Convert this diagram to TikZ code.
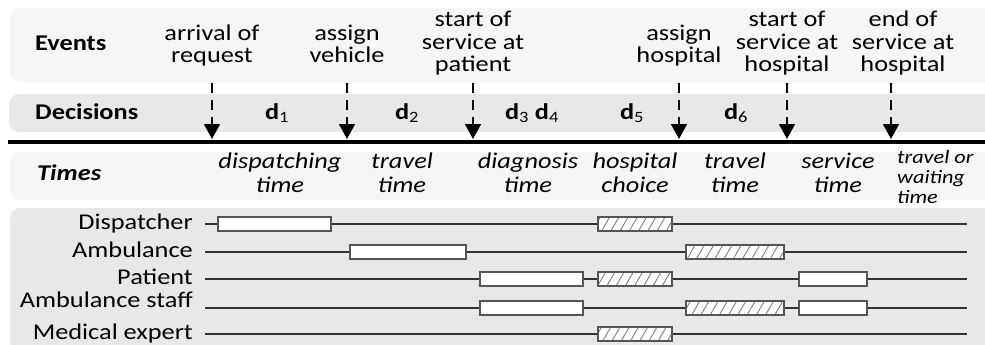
\documentclass[tikz,border=0pt]{standalone}
\usepackage{fontspec}
\setmainfont{Carlito}[FakeStretch=1.17]
\usepackage{tikz}
\usetikzlibrary{arrows.meta}
\usetikzlibrary{positioning}
\usetikzlibrary{patterns.meta}
\definecolor{panellight}{HTML}{F6F6F6}
\definecolor{paneldark}{HTML}{E8E8E8}
\definecolor{boxedge}{HTML}{555555}
\tikzset{>=latex}
\tikzset{
  panel/.style = {draw=none, rounded corners=10pt},
  head/.style = {inner sep=0, anchor=base west, font=\fontsize{22.5}{22}\selectfont\bfseries},
  event/.style = {inner sep=0, anchor=base, align=center, font=\fontsize{22.5}{22.5}\selectfont},
  dec/.style = {inner sep=0, anchor=base, font=\fontsize{22.5}{22}\selectfont\bfseries},
  dur/.style = {inner sep=0, anchor=base, align=center, font=\fontsize{22.5}{24}\selectfont\itshape},
  lane/.style = {inner sep=0, anchor=base east, font=\fontsize{22.5}{22}\selectfont},
  evarrow/.style = {line width=1.5pt, dash pattern=on 10pt off 7pt, -{Triangle[width=16pt,length=15pt]}},
  track/.style = {line width=1.3pt, draw=black!80},
  busy/.style = {draw=boxedge, line width=1.2pt, fill=white},
  hatched/.style = {draw=boxedge, line width=1.2pt, preaction={fill=white},
    pattern={Lines[angle=60,distance=8pt,line width=0.9pt]}, pattern color=black!50}
}
\newcommand{\dsub}[1]{\textbf{d}\textsubscript{\mdseries #1}}

\begin{document}
\begin{tikzpicture}[x=1pt, y=-1pt]
\useasboundingbox (0,0) rectangle (985,345);
\clip (0,0) rectangle (985,345);
% panels
\fill [panel, panellight] (10,8) rectangle (1000,82);
\fill [panel, paneldark] (9,94) rectangle (1000,132);
\fill [panel, panellight] (10,152) rectangle (1000,200);
\fill [panel, paneldark] (10,208) rectangle (1000,360);
% time axis
\coordinate (axis start) at (8,142);
\coordinate (axis end) at (990,142);
\draw [line width=4pt] (axis start) -- (axis end);

% events
\node [head] (events) at (35,51) {Events};
\node [event] (arrival) at (212,63) {arrival of\\request};
\node [event] (vehicle) at (347,63) {assign\\vehicle};
\node [event] (startpat) at (473,72) {start of\\service at\\patient};
\node [event] (hospital) at (679,63) {assign\\hospital};
\node [event] (starthosp) at (787,72) {start of\\service at\\hospital};
\node [event] (endhosp) at (903,72) {end of\\service at\\hospital};

\coordinate (e1) at (212,83);  \coordinate (t1) at (212,139);
\coordinate (e2) at (347,83);  \coordinate (t2) at (347,139);
\coordinate (e3) at (473,83);  \coordinate (t3) at (473,139);
\coordinate (e4) at (679,83);  \coordinate (t4) at (679,139);
\coordinate (e5) at (787,83);  \coordinate (t5) at (787,139);
\coordinate (e6) at (891,83);  \coordinate (t6) at (891,139);
\draw [evarrow] (e1) -- (t1);
\draw [evarrow] (e2) -- (t2);
\draw [evarrow] (e3) -- (t3);
\draw [evarrow] (e4) -- (t4);
\draw [evarrow] (e5) -- (t5);
\draw [evarrow] (e6) -- (t6);

% decisions
\node [head] (decisions) at (35,119) {Decisions};
\node [dec] (d1) at (277,119) {\dsub{1}};
\node [dec] (d2) at (407,119) {\dsub{2}};
\node [dec] (d34) at (532,119) {\dsub{3} \dsub{4}};
\node [dec] (d5) at (632,119) {\dsub{5}};
\node [dec] (d6) at (736,119) {\dsub{6}};

% times
\node [head, font=\fontsize{22.5}{22}\selectfont\bfseries\itshape] (times) at (37,180) {Times};
\node [dur] (tdisp) at (280,192) {dispatching\\time};
\node [dur] (ttrav) at (402,192) {travel\\time};
\node [dur] (tdiag) at (528,192) {diagnosis\\time};
\node [dur] (tchoice) at (635,192) {hospital\\choice};
\node [dur] (ttrav2) at (735,192) {travel\\time};
\node [dur] (tserv) at (838,192) {service\\time};
\node [dur, anchor=base west, align=left, font=\fontsize{19}{20}\selectfont\itshape] (twait) at (897,203) {travel or\\waiting\\time};

% lanes
\node [lane] (dispatcher) at (193,229) {Dispatcher};
\node [lane] (ambulance) at (193,257) {Ambulance};
\node [lane] (patient) at (193,284) {Patient};
\node [lane] (staff) at (193,307) {Ambulance staff};
\node [lane] (expert) at (193,339) {Medical expert};

\coordinate (l1) at (205,224);  \coordinate (r1) at (967,224);
\coordinate (l2) at (205,252);  \coordinate (r2) at (967,252);
\coordinate (l3) at (205,279);  \coordinate (r3) at (967,279);
\coordinate (l4) at (205,308);  \coordinate (r4) at (967,308);
\coordinate (l5) at (205,334);  \coordinate (r5) at (967,334);
\draw [track] (l1) -- (r1);
\draw [track] (l2) -- (r2);
\draw [track] (l3) -- (r3);
\draw [track] (l4) -- (r4);
\draw [track] (l5) -- (r5);

% activities
\draw [busy] (218,217) rectangle (331,231);
\draw [hatched] (598,217) rectangle (672,231);
\draw [busy] (350,245) rectangle (466,259);
\draw [hatched] (686,245) rectangle (784,259);
\draw [busy] (480,272) rectangle (583,286);
\draw [hatched] (598,272) rectangle (672,286);
\draw [busy] (799,272) rectangle (867,286);
\draw [busy] (480,301) rectangle (583,315);
\draw [hatched] (686,301) rectangle (784,315);
\draw [busy] (799,301) rectangle (867,315);
\draw [hatched] (598,327) rectangle (672,341);
\end{tikzpicture}
\end{document}
